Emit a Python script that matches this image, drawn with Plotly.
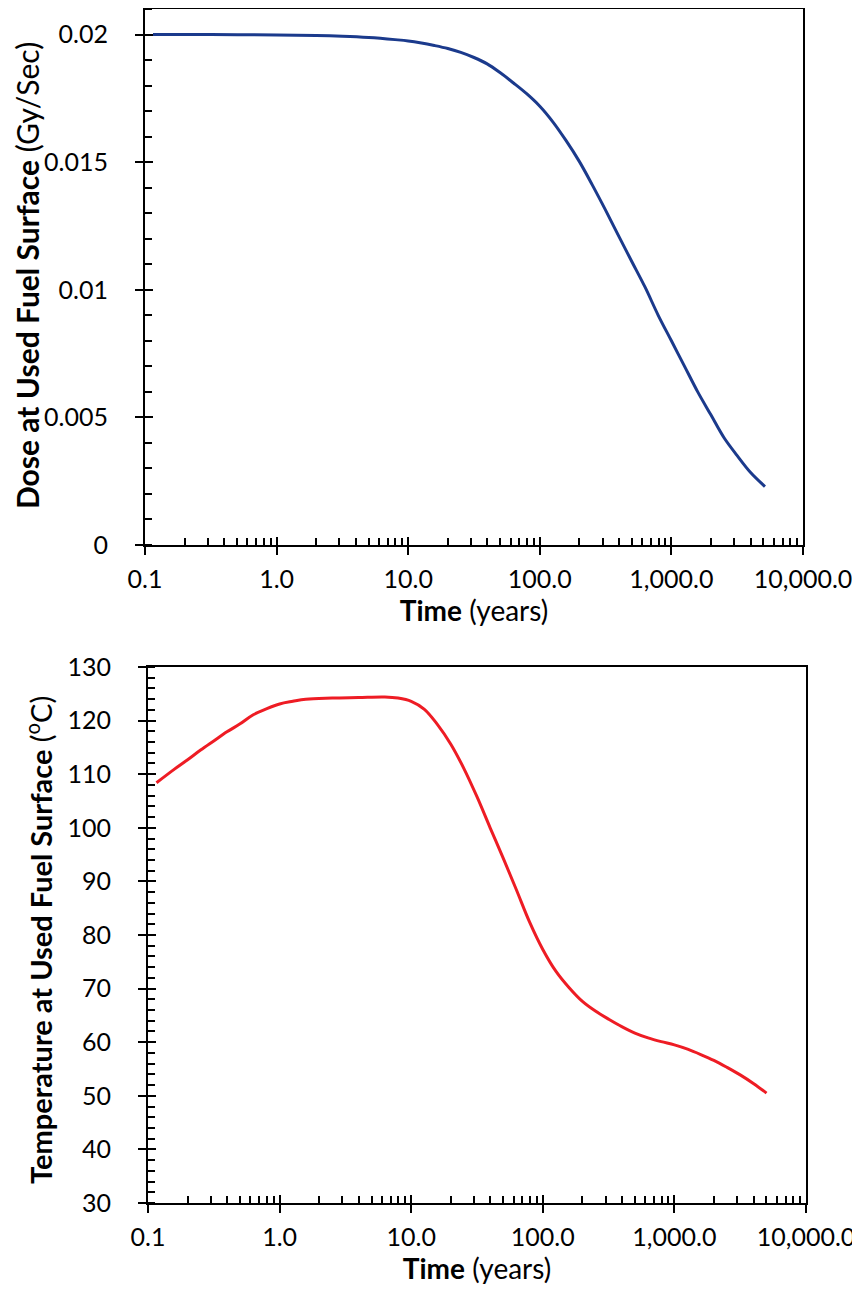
import plotly.graph_objects as go

# ---- data ----
dose_time = [0.115, 0.316, 1.0, 2.0, 3.16, 5.01, 7.94, 10.0,
             12.6, 15.8, 20.0, 25.1, 31.6, 39.8, 50.1, 63.1, 79.4, 100.0,
             126.0, 158.0, 200.0, 251.0, 316.0, 398.0, 501.0, 631.0, 794.0, 1000.0,
             1259.0, 1585.0, 1995.0, 2512.0, 3162.0, 3981.0, 5140.0]
dose_vals = [0.02000, 0.02000, 0.01998, 0.01996, 0.01993, 0.01988, 0.01980, 0.01975,
             0.01967, 0.01957, 0.01945, 0.01930, 0.01910, 0.01885, 0.01850, 0.01810, 0.01768, 0.01719,
             0.01657, 0.01585, 0.01502, 0.01410, 0.01312, 0.01210, 0.01110, 0.01010, 0.00900, 0.00800,
             0.00700, 0.00600, 0.00510, 0.00420, 0.00350, 0.00285, 0.00229]

temp_time = [0.116, 0.158, 0.2, 0.251, 0.316, 0.398, 0.501, 0.631, 0.794, 1.0, 1.26, 1.58, 2.51,
             3.98, 6.31, 7.94, 10.0,
             12.6, 15.8, 20.0, 25.1, 31.6, 39.8, 50.1, 63.1, 79.4, 100.0,
             126.0, 158.0, 200.0, 251.0, 316.0, 398.0, 501.0, 631.0, 794.0, 1000.0,
             1259.0, 1585.0, 1995.0, 2512.0, 3162.0, 3981.0, 5012.0]
temp_vals = [108.4, 110.9, 112.7, 114.5, 116.2, 117.9, 119.4, 121.1, 122.2, 123.1, 123.6, 124.0, 124.2,
             124.3, 124.4, 124.2, 123.6,
             122.1, 119.3, 115.6, 111.1, 105.8, 100.0, 94.3, 88.4, 82.4, 77.3,
             73.2, 70.2, 67.6, 65.8, 64.3, 62.9, 61.7, 60.8, 60.1, 59.5,
             58.7, 57.7, 56.6, 55.3, 53.9, 52.3, 50.5]

x_tickvals = [0.1, 1, 10, 100, 1000, 10000]
x_ticktext = ["0.1", "1.0", "10.0", "100.0", "1,000.0", "10,000.0"]
x_minor = [m * 10 ** e for e in range(-1, 4) for m in range(2, 10)]

dose_title = "<b>Dose at Used Fuel Surface</b> (Gy/Sec)"
temp_title = "<b>Temperature at Used Fuel Surface</b> (<sup>o</sup>C)"
time_title = "<b>Time</b> (years)"

FONT = "Lato, 'Open Sans', sans-serif"
BLACK = "#000000"

fig = go.Figure()
fig.add_trace(go.Scatter(x=dose_time, y=dose_vals, mode="lines",
                         line=dict(color="#1b3a8c", width=3, shape="spline", smoothing=1.0),
                         xaxis="x", yaxis="y", showlegend=False))
fig.add_trace(go.Scatter(x=temp_time, y=temp_vals, mode="lines",
                         line=dict(color="#ee1c24", width=3, shape="spline", smoothing=1.0),
                         xaxis="x2", yaxis="y2", showlegend=False))
# empty traces to register overlay axes (inner half of crossing major ticks)
fig.add_trace(go.Scatter(x=[], y=[], xaxis="x3", yaxis="y3", showlegend=False))
fig.add_trace(go.Scatter(x=[], y=[], xaxis="x4", yaxis="y4", showlegend=False))

# page has an 8px body margin; figure is 852x1281
W, H = 852, 1281
ML, MR, MT, MB = 137, 54, 1, 86
PW = W - ML - MR
PH = H - MT - MB
top_x = [0, (795 - ML) / PW]
bot_x = [(140 - ML) / PW, 1]
top_y = [(1195 - 537) / PH, 1]
bot_y = [0, (1195 - 659) / PH]

tickfont = dict(family=FONT, size=25, color=BLACK)

def xaxis_main(domain, anchor):
    return dict(domain=domain, anchor=anchor, type="log", range=[-1, 4], automargin=False,
                tickvals=x_tickvals, ticktext=x_ticktext, ticks="outside", ticklen=8, tickwidth=2,
                tickcolor=BLACK, showline=True, linecolor=BLACK, linewidth=2, mirror=True,
                showgrid=False, zeroline=False, tickfont=tickfont, ticklabelstandoff=3,
                minor=dict(tickvals=x_minor, ticks="inside", ticklen=7, tickwidth=1.5, tickcolor=BLACK, showgrid=False),
                title=dict(text=time_title, font=dict(family=FONT, size=28, color=BLACK), standoff=2))

def xaxis_overlay(domain, anchor, over):
    return dict(domain=domain, anchor=anchor, overlaying=over, type="log", range=[-1, 4], automargin=False,
                tickvals=x_tickvals, ticks="inside", ticklen=8, tickwidth=2, tickcolor=BLACK,
                showticklabels=False, showline=False, showgrid=False, zeroline=False)

def yaxis_main(domain, anchor, rng, dtick, mdtick):
    return dict(domain=domain, anchor=anchor, range=rng, dtick=dtick, automargin=False,
                ticks="outside", ticklen=8, tickwidth=2,
                tickcolor=BLACK, showline=True, linecolor=BLACK, linewidth=2, mirror=True, showgrid=False,
                zeroline=False, tickfont=tickfont, ticklabelstandoff=22,
                minor=dict(dtick=mdtick, ticks="inside", ticklen=7, tickwidth=1.5, tickcolor=BLACK, showgrid=False))

def yaxis_overlay(domain, anchor, over, rng, dtick):
    return dict(domain=domain, anchor=anchor, overlaying=over, range=rng, dtick=dtick, automargin=False,
                ticks="inside", ticklen=8, tickwidth=2, tickcolor=BLACK, showticklabels=False,
                showline=False, showgrid=False, zeroline=False)

def px_x(fx):
    return (fx - ML) / PW

def px_y(fy):
    return (H - MB - fy) / PH

fig.update_layout(
    width=W, height=H,
    margin=dict(l=ML, r=MR, t=MT, b=MB, autoexpand=False),
    paper_bgcolor="white", plot_bgcolor="white",
    xaxis=xaxis_main(top_x, "y"),
    xaxis2=xaxis_main(bot_x, "y2"),
    xaxis3=xaxis_overlay(top_x, "y3", "x"),
    xaxis4=xaxis_overlay(bot_x, "y4", "x2"),
    yaxis=yaxis_main(top_y, "x", [0, 0.021], 0.005, 0.001),
    yaxis2=yaxis_main(bot_y, "x2", [30, 130], 10, 2),
    yaxis3=yaxis_overlay(top_y, "x3", "y", [0, 0.021], 0.005),
    yaxis4=yaxis_overlay(bot_y, "x4", "y2", [30, 130], 10),
    annotations=[
        dict(text=dose_title, textangle=-90, xref="paper", yref="paper",
             x=px_x(19), y=px_y(268), xanchor="center", yanchor="middle", showarrow=False,
             font=dict(family=FONT, size=30, color=BLACK)),
        dict(text=temp_title, textangle=-90, xref="paper", yref="paper",
             x=px_x(31), y=px_y(932), xanchor="center", yanchor="middle", showarrow=False,
             font=dict(family=FONT, size=29, color=BLACK)),
    ],
)

fig.write_html("out.html")
